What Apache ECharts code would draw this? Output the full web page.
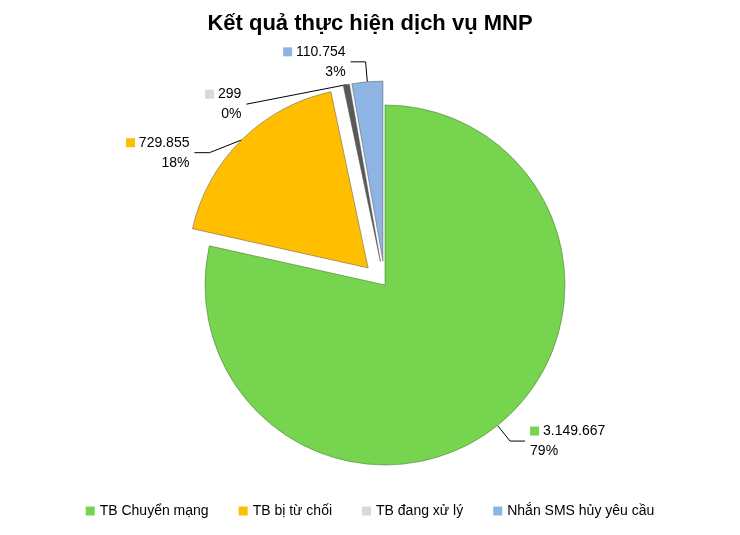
<!DOCTYPE html>
<html><head><meta charset="utf-8">
<script src="https://cdn.jsdelivr.net/npm/echarts@6/dist/echarts.min.js"></script>
<style>html,body{margin:0;padding:0;background:#fff}#c{width:740px;height:535px}</style>
</head><body><div id="c"></div>
<script>
const categories = ["TB Chuyển mạng", "TB bị từ chối", "TB đang xử lý", "Nhắn SMS hủy yêu cầu"];
const values = [3149667, 729855, 299, 110754];
const labelsText = ["3.149.667", "729.855", "299", "110.754"];
const percents = ["79%", "18%", "0%", "3%"];
const colors = ["#77d44f", "#ffbf00", "#d9d9d9", "#8db4e2"];
const sliceColors = ["#77d44f", "#ffbf00", "#595959", "#8db4e2"];
const chart = echarts.init(document.getElementById('c'));
chart.setOption({
  title: {text: "Kết quả thực hiện dịch vụ MNP", left: 'center', top: 8,
    textStyle: {fontFamily: 'Liberation Sans', fontSize: 22, fontWeight: 'bold', color: '#000'}},
  legend: {bottom: 12, left: 'center', itemWidth: 9, itemHeight: 9, itemGap: 30, icon: 'rect',
    textStyle: {fontFamily: 'Liberation Sans', fontSize: 14, color: '#000'},
    data: categories.map((c, i) => ({name: c, itemStyle: {color: colors[i], borderWidth: 0}}))},
  series: [{
    type: 'pie', center: [385, 285], radius: 180, startAngle: 90, clockwise: true,
    selectedMode: 'multiple', selectedOffset: 24, minAngle: 2,
    data: categories.map((c, i) => ({
      name: c, value: values[i], selected: i > 0,
      itemStyle: {color: sliceColors[i], borderColor: i === 0 ? '#3d6b28' : '#555', borderWidth: 0.5},
      label: {formatter: '{s|} ' + labelsText[i] + '\n' + percents[i],
        rich: {s: {width: 9, height: 9, backgroundColor: colors[i]}}},
    })),
    label: {show: true, fontFamily: 'Liberation Sans', fontSize: 14, color: '#000', lineHeight: 20, align: 'left'},
    labelLine: {show: true, length: 20, length2: 15, lineStyle: {color: '#000', width: 1}},
    emphasis: {disabled: true}
  }]
});
</script></body></html>
